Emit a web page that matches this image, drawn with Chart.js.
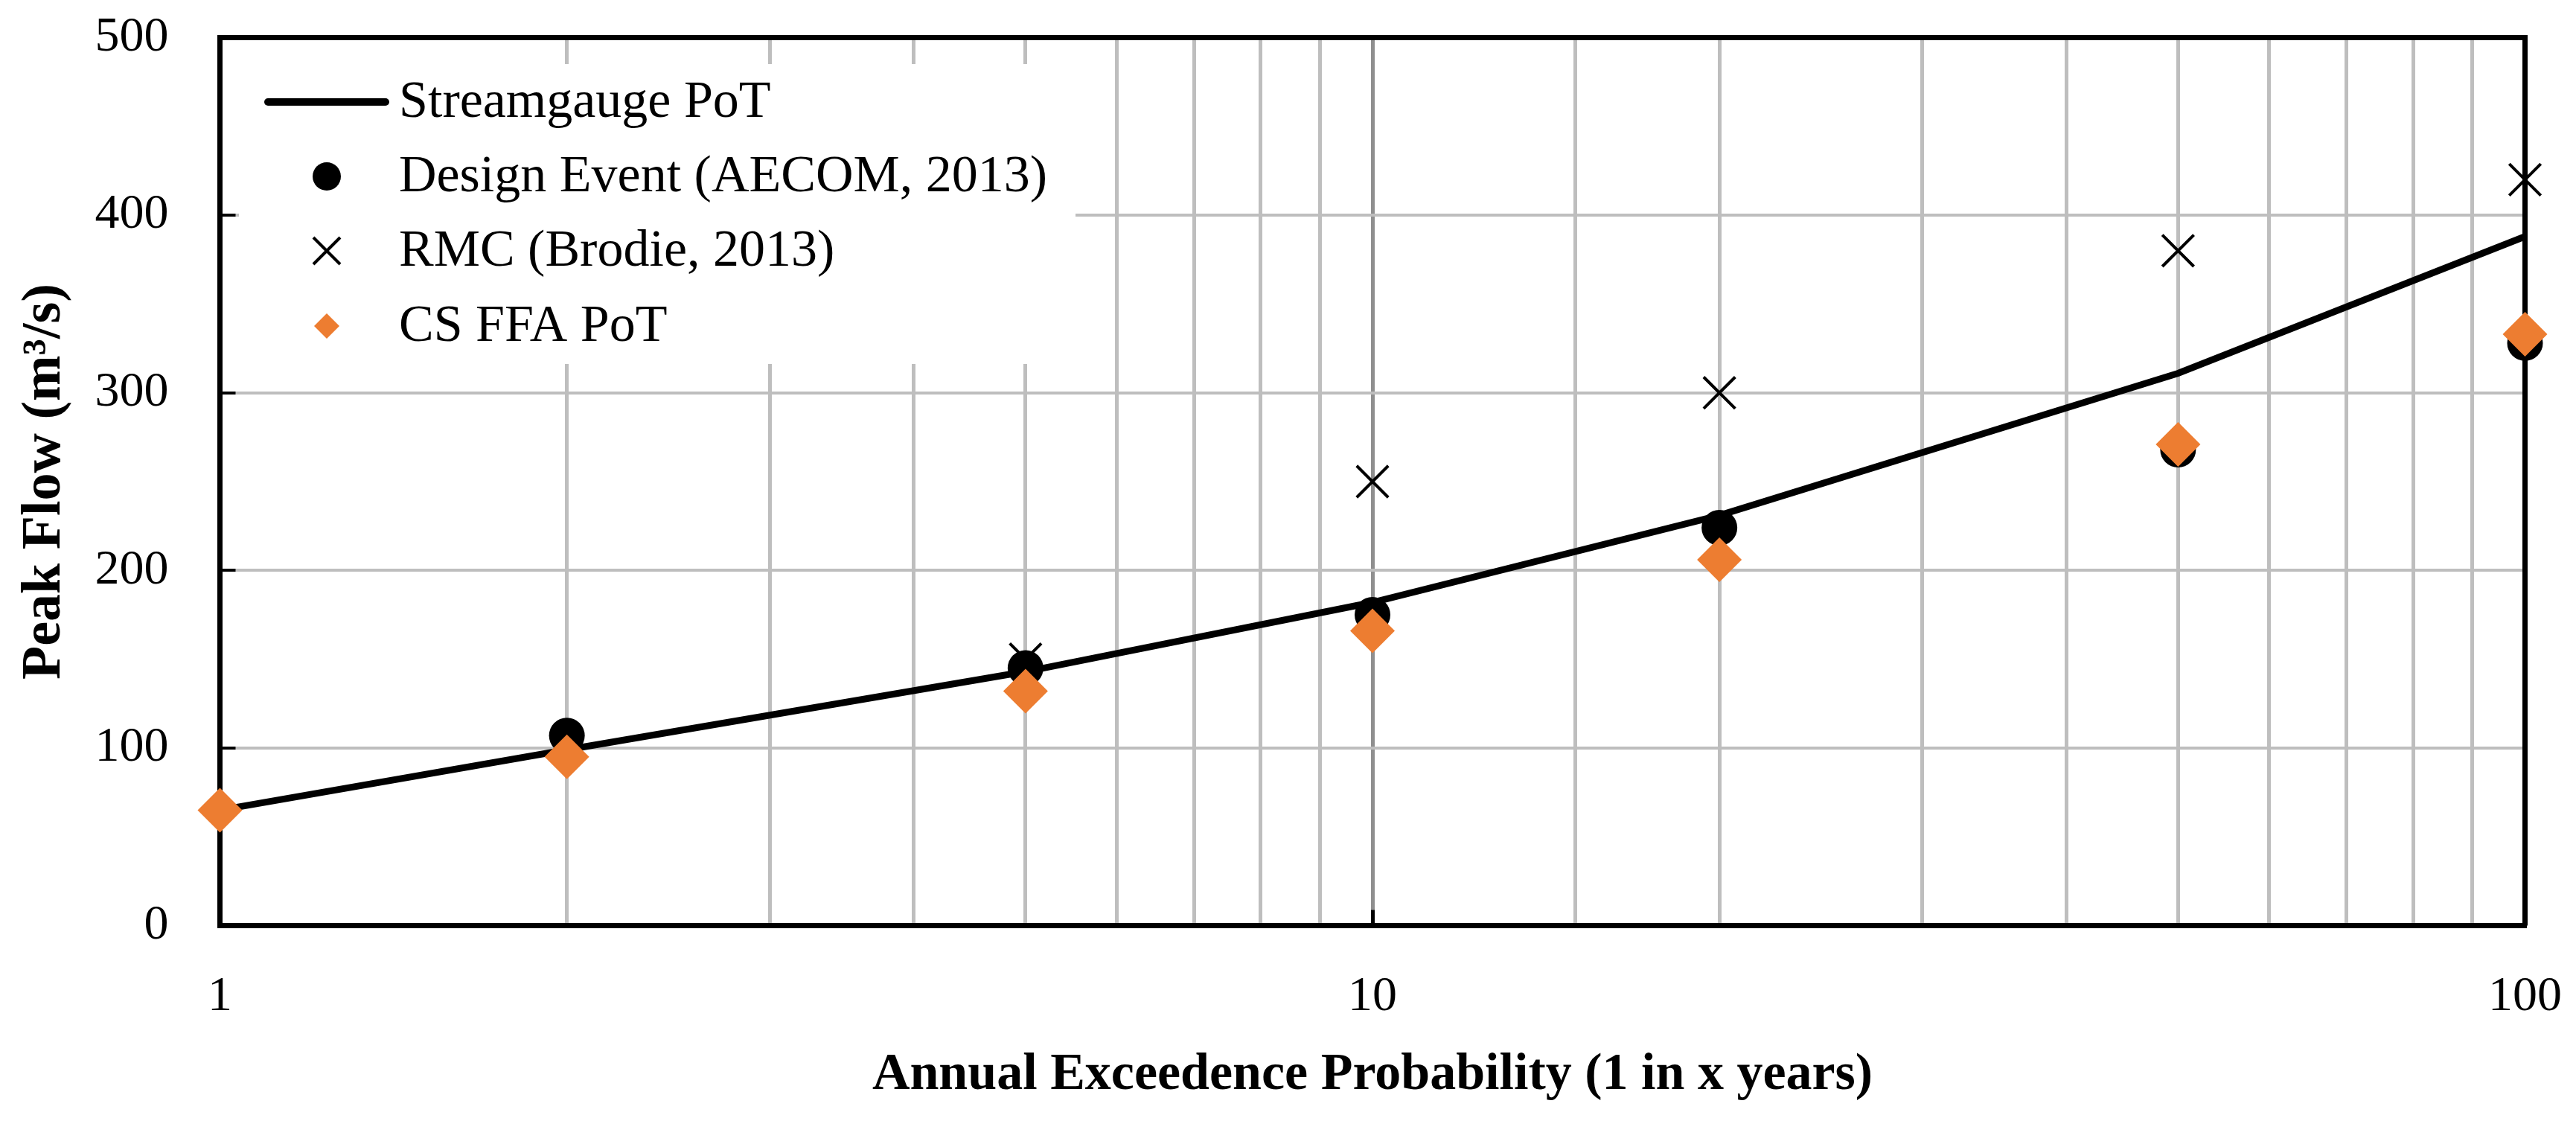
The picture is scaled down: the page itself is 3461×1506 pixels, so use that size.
<!DOCTYPE html>
<html>
<head>
<meta charset="utf-8">
<script src="https://cdn.jsdelivr.net/npm/chart.js"></script>
<style>
    html, body { margin: 0; padding: 0; background: #ffffff; }
    #flowChart { display: block; }
</style>
</head>
<body>
<canvas id="flowChart" width="3461" height="1506"></canvas>
<script>
// AEP (1 in x years)
const aep = [1, 2, 5, 10, 20, 50, 100];
const streamgaugePoT = [65, 99, 143, 182, 231, 311, 388];

const designAep = [2, 5, 10, 20, 50, 100];
const designEvent = [107, 145, 175, 224, 268, 328];

const rmcAep = [5, 10, 20, 50, 100];
const rmcBrodie = [150, 250, 300, 380, 420];

const csFfaPoT = [65, 95, 132, 166, 206, 271, 333];

const xTickLabels = [1, 10, 100];
const yTicks = [0, 100, 200, 300, 400, 500];

const orange = '#ED7D31';
const serif = '"Liberation Serif", "Times New Roman", serif';

function toPoints(xs, ys) {
    return xs.map((x, i) => ({ x: x, y: ys[i] }));
}

function isMajor(v) {
    return xTickLabels.includes(v);
}

// top + right frame of the plot area
const frame = {
    id: 'frame',
    beforeDatasetsDraw(chart) {
        const a = chart.chartArea;
        const c = chart.ctx;
        c.save();
        c.strokeStyle = '#000';
        c.lineWidth = 7;
        c.beginPath();
        c.moveTo(a.left, a.top);
        c.lineTo(a.right, a.top);
        c.lineTo(a.right, a.bottom);
        c.stroke();
        c.restore();
    }
};

// legend box inside the plot, top left
const boxLegend = {
    id: 'boxLegend',
    afterDatasetsDraw(chart) {
        const c = chart.ctx;
        c.save();
        c.fillStyle = '#fff';
        c.fillRect(321, 86, 1445 - 321, 489 - 86);

        const mx = 439;
        const rows = [137, 237, 337, 438];
        // line sample
        c.strokeStyle = '#000';
        c.lineWidth = 10;
        c.lineCap = 'round';
        c.beginPath();
        c.moveTo(360, rows[0]);
        c.lineTo(518, rows[0]);
        c.stroke();
        // circle
        c.fillStyle = '#000';
        c.beginPath();
        c.arc(mx, rows[1], 19, 0, Math.PI * 2);
        c.fill();
        // cross
        c.lineWidth = 4;
        c.lineCap = 'butt';
        c.beginPath();
        c.moveTo(mx - 18, rows[2] - 18);
        c.lineTo(mx + 18, rows[2] + 18);
        c.moveTo(mx + 18, rows[2] - 18);
        c.lineTo(mx - 18, rows[2] + 18);
        c.stroke();
        // diamond
        c.fillStyle = orange;
        c.beginPath();
        c.moveTo(mx, rows[3] - 17);
        c.lineTo(mx + 17, rows[3]);
        c.lineTo(mx, rows[3] + 17);
        c.lineTo(mx - 17, rows[3]);
        c.closePath();
        c.fill();

        c.fillStyle = '#000';
        c.font = '70px ' + serif;
        c.textBaseline = 'middle';
        c.textAlign = 'left';
        chart.data.datasets.forEach((ds, i) => {
            c.fillText(ds.label, 536, rows[i] + 2);
        });
        c.restore();
    }
};

const ctx = document.getElementById('flowChart');
const flowChart = new Chart(ctx, {
    type: 'scatter',
    data: {
        datasets: [{
            label: 'Streamgauge PoT',
            data: toPoints(aep, streamgaugePoT),
            showLine: true,
            borderColor: '#000',
            borderWidth: 9,
            pointRadius: 0,
            pointHoverRadius: 0,
            tension: 0,
            order: 3
        }, {
            label: 'Design Event (AECOM, 2013)',
            data: toPoints(designAep, designEvent),
            pointStyle: 'circle',
            pointRadius: 24,
            backgroundColor: '#000',
            borderWidth: 0,
            order: 1
        }, {
            label: 'RMC (Brodie, 2013)',
            data: toPoints(rmcAep, rmcBrodie),
            pointStyle: 'crossRot',
            pointRadius: 30,
            borderColor: '#000',
            borderWidth: 4,
            order: 2
        }, {
            label: 'CS FFA PoT',
            data: toPoints(aep, csFfaPoT),
            pointStyle: 'rectRot',
            pointRadius: 30,
            backgroundColor: orange,
            borderWidth: 0,
            order: 0
        }]
    },
    plugins: [frame, boxLegend],
    options: {
        responsive: false,
        animation: false,
        devicePixelRatio: 1,
        clip: false,
        layout: {
            padding: { top: 50.5, right: 68.5, left: 0, bottom: 0 }
        },
        plugins: {
            legend: { display: false },
            tooltip: { enabled: false }
        },
        scales: {
            x: {
                type: 'logarithmic',
                min: 1,
                max: 100,
                afterFit(scale) {
                    scale.height = 262.5;
                    scale.paddingLeft = 0;
                    scale.paddingRight = 0;
                },
                border: { display: true, color: '#000', width: 7 },
                grid: {
                    color: (c) => (c.tick && c.tick.value === 10) ? '#8f8f8f' : '#bebebe',
                    lineWidth: 5,
                    drawTicks: true,
                    tickLength: -21,
                    tickWidth: 5,
                    tickColor: (c) => (c.tick && isMajor(c.tick.value)) ? '#000' : 'rgba(0,0,0,0)'
                },
                ticks: {
                    autoSkip: false,
                    maxRotation: 0,
                    padding: 78,
                    color: '#000',
                    font: { family: serif, size: 66 },
                    callback: (v) => isMajor(v) ? String(v) : ''
                },
                title: {
                    display: true,
                    text: 'Annual Exceedence Probability (1 in x years)',
                    color: '#000',
                    font: { family: serif, size: 70, weight: 'bold' },
                    padding: { top: 0, bottom: 19 }
                }
            },
            y: {
                min: 0,
                max: 500,
                afterFit(scale) {
                    scale.width = 295.5;
                    scale.paddingTop = 0;
                    scale.paddingBottom = 0;
                },
                afterBuildTicks(scale) { scale.ticks = yTicks.map(v => ({ value: v })); },
                border: { display: true, color: '#000', width: 7 },
                grid: {
                    color: '#bebebe',
                    lineWidth: 4,
                    drawTicks: true,
                    tickLength: -21,
                    tickWidth: 4,
                    tickColor: '#000'
                },
                ticks: {
                    padding: 90,
                    color: '#000',
                    font: { family: serif, size: 66 }
                },
                title: {
                    display: true,
                    text: 'Peak Flow (m³/s)',
                    color: '#000',
                    font: { family: serif, size: 74, weight: 'bold' },
                    padding: { top: 16, bottom: 0 }
                }
            }
        }
    }
});
</script>
</body>
</html>
